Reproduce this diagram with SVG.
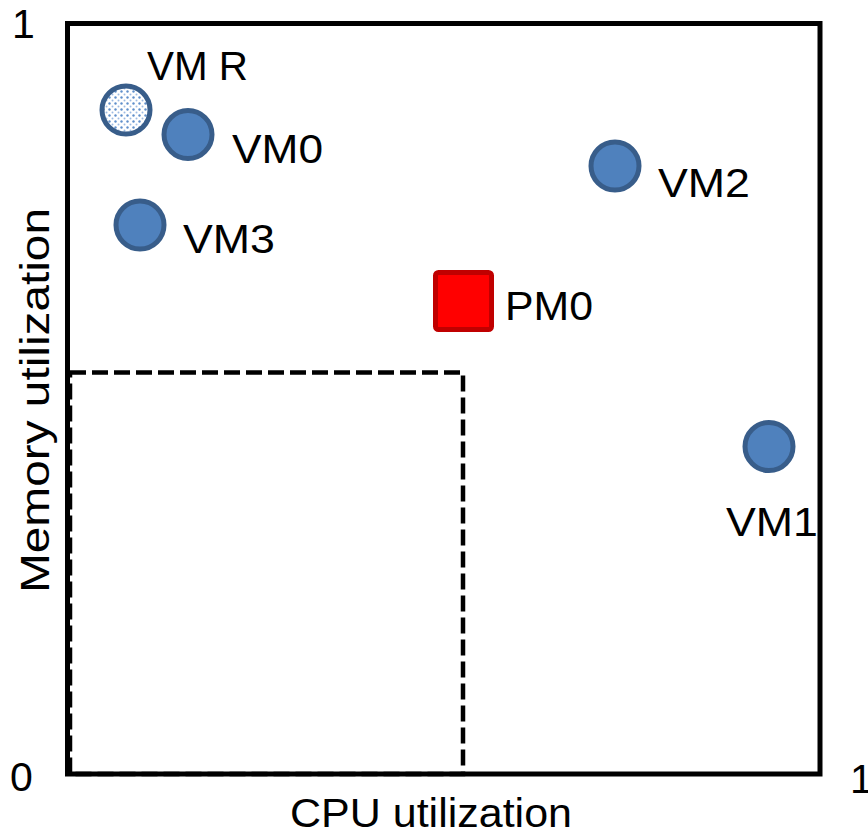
<svg xmlns="http://www.w3.org/2000/svg" width="868" height="837" viewBox="0 0 868 837">
  <defs>
    <pattern id="dots" x="0" y="0" width="6" height="6" patternUnits="userSpaceOnUse">
      <rect width="6" height="6" fill="#ffffff"/>
      <circle cx="1.5" cy="1.5" r="1.2" fill="#5F8FCB"/>
      <circle cx="4.5" cy="4.5" r="1" fill="#9DBBE3"/>
    </pattern>
  </defs>
  <style>
    .lbl { font-family: "Liberation Sans", Arial, sans-serif; font-size: 41px; fill: #000; }
    .vm { fill: #4F81BD; stroke: #385D8A; stroke-width: 5; }
    .vmr { fill: url(#dots); stroke: #385D8A; stroke-width: 5; }
    .pm { fill: #FF0000; stroke: #C00000; stroke-width: 5; }
    .axis { fill: none; stroke: #000; stroke-width: 5; }
    .dash { fill: none; stroke: #000; stroke-width: 4.5; stroke-dasharray: 16 6; }
  </style>
  <rect width="868" height="837" fill="#ffffff"/>

  <g id="axes">
    <rect class="axis" x="67.5" y="23.5" width="752.5" height="750.5"/>
    <text class="lbl" x="12" y="38">1</text>
    <text class="lbl" x="10" y="791">0</text>
    <text class="lbl" x="850" y="793">1</text>
    <text class="lbl" x="290" y="827" textLength="282" lengthAdjust="spacingAndGlyphs">CPU utilization</text>
    <text class="lbl" transform="translate(49,400.5) rotate(-90)" text-anchor="middle" textLength="385" lengthAdjust="spacingAndGlyphs">Memory utilization</text>
  </g>

  <g id="connectors">
    <rect class="dash" x="70" y="372.5" width="393" height="401.5"/>
  </g>

  <g id="vmr">
    <circle class="vmr" cx="126" cy="110" r="24"/>
    <text class="lbl" x="147" y="80" textLength="101" lengthAdjust="spacingAndGlyphs">VM R</text>
  </g>
  <g id="vm0">
    <circle class="vm" cx="188" cy="134.5" r="24"/>
    <text class="lbl" x="232" y="163" textLength="91" lengthAdjust="spacingAndGlyphs">VM0</text>
  </g>
  <g id="vm3">
    <circle class="vm" cx="140" cy="225" r="24"/>
    <text class="lbl" x="183" y="253" textLength="92" lengthAdjust="spacingAndGlyphs">VM3</text>
  </g>
  <g id="vm2">
    <circle class="vm" cx="615" cy="166" r="24"/>
    <text class="lbl" x="658" y="197" textLength="92" lengthAdjust="spacingAndGlyphs">VM2</text>
  </g>
  <g id="vm1">
    <circle class="vm" cx="769" cy="446.5" r="24"/>
    <text class="lbl" x="726" y="536" textLength="92" lengthAdjust="spacingAndGlyphs">VM1</text>
  </g>
  <g id="pm0">
    <rect class="pm" x="435.5" y="272.5" width="56" height="57" rx="3"/>
    <text class="lbl" x="505" y="320" textLength="88" lengthAdjust="spacingAndGlyphs">PM0</text>
  </g>
</svg>
